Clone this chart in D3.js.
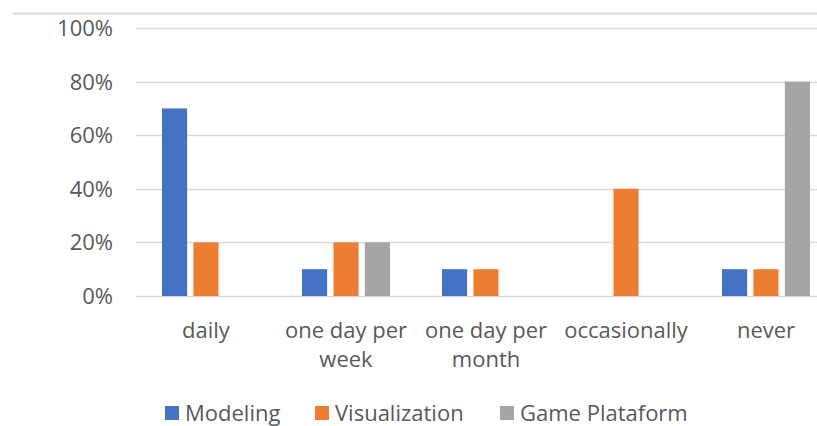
<!DOCTYPE html>
<html>
<head>
<meta charset="utf-8">
<script src="https://cdn.jsdelivr.net/npm/d3@7"></script>
<style>
  body { margin: 0; background: #fff; }
  text { font-family: "Open Sans", sans-serif; fill: #595959; }
</style>
</head>
<body>
<script>
// data
var categories = [["daily"], ["one day per", "week"], ["one day per", "month"], ["occasionally"], ["never"]];
var seriesNames = ["Modeling", "Visualization", "Game Plataform"];
var modeling = [70, 10, 10, 0, 10];
var visualization = [20, 20, 10, 40, 10];
var gamePlatform = [0, 20, 0, 0, 80];
var yTicks = [0, 20, 40, 60, 80, 100];
var colors = ["#4472C4", "#ED7D31", "#A5A5A5"];

var chart = {
    width: 817,
    height: 426
}

var svg = d3.select("body")
    .append("svg")
    .attr("width", chart.width)
    .attr("height", chart.height)

// border line at top
svg.append("line")
    .attr("x1", 13).attr("x2", chart.width)
    .attr("y1", 13.5).attr("y2", 13.5)
    .attr("stroke", "#d9d9d9")
    .attr("stroke-width", 2)

var x = d3.scaleBand()
    .domain(d3.range(categories.length))
    .range([136, 836])

var y = d3.scaleLinear()
    .domain([0, 100])
    .range([296, 28])

var xInner = d3.scaleBand()
    .domain(d3.range(seriesNames.length))
    .range([x.bandwidth() / 2 - 44, x.bandwidth() / 2 + 44])
    .paddingInner(0.2)

// gridlines
svg.append("g")
    .selectAll("line")
    .data(yTicks)
    .enter()
    .append("line")
        .attr("x1", 136)
        .attr("x2", chart.width)
        .attr("y1", d => Math.round(y(d)) + 0.5)
        .attr("y2", d => Math.round(y(d)) + 0.5)
        .attr("stroke", "#d9d9d9")
        .attr("stroke-width", 1.5)

// y labels
svg.append("g")
    .selectAll("text")
    .data(yTicks)
    .enter()
    .append("text")
        .attr("x", 113)
        .attr("y", d => y(d))
        .attr("dy", "0.36em")
        .attr("text-anchor", "end")
        .style("font-size", "22px")
        .text(d => d + "%")

// bars
var allSeries = [modeling, visualization, gamePlatform];
var groups = svg.append("g")
    .selectAll("g")
    .data(allSeries)
    .enter()
    .append("g")
        .attr("fill", (d, i) => colors[i])

groups.each(function(vals, s) {
    d3.select(this).selectAll("rect")
        .data(vals)
        .enter()
        .append("rect")
            .attr("x", (d, i) => x(i) + xInner(s))
            .attr("width", xInner.bandwidth())
            .attr("y", d => y(d))
            .attr("height", d => y(0) - y(d))
})

// category labels
var catLabels = svg.append("g")
    .selectAll("text")
    .data(categories)
    .enter()
    .append("text")
        .attr("text-anchor", "middle")
        .attr("x", (d, i) => x(i) + x.bandwidth() / 2)
        .attr("y", 338)
        .style("font-size", "22px")

catLabels.selectAll("tspan")
    .data(d => d)
    .enter()
    .append("tspan")
        .attr("x", function() { return d3.select(this.parentNode).attr("x") })
        .attr("dy", (d, i) => i == 0 ? 0 : 29)
        .text(d => d)

// legend
var legendX = [165, 315, 500];
var legend = svg.append("g")
    .selectAll("g")
    .data(seriesNames)
    .enter()
    .append("g")
        .attr("transform", (d, i) => "translate(" + legendX[i] + ",0)")

legend.append("rect")
    .attr("x", 0)
    .attr("y", 406)
    .attr("width", 14)
    .attr("height", 14)
    .attr("fill", (d, i) => colors[i])

legend.append("text")
    .attr("x", 20)
    .attr("y", 421)
    .style("font-size", "22px")
    .text(d => d)
</script>
</body>
</html>
